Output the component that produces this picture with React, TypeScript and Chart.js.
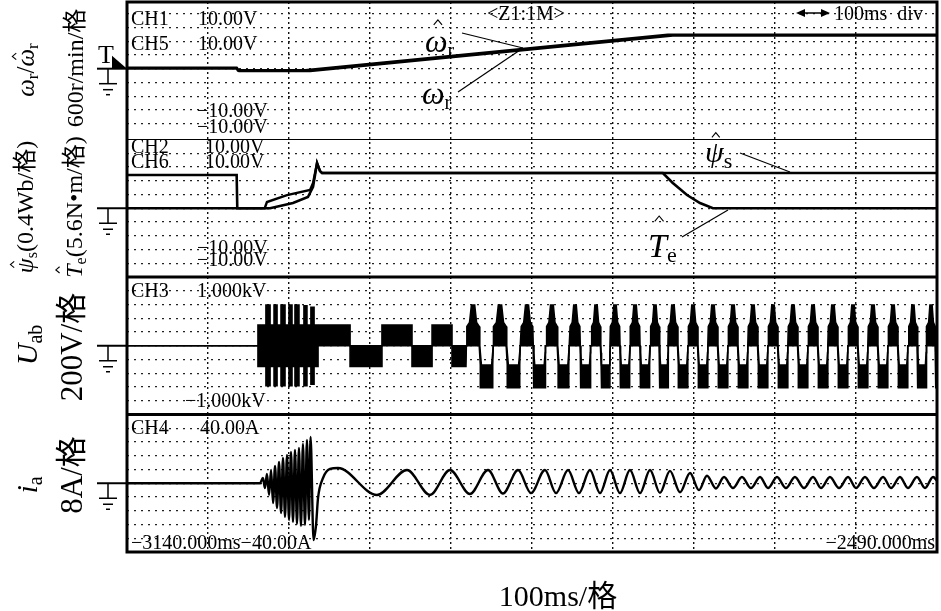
import { useEffect, useRef } from "react";
import { Chart, registerables } from "chart.js";

Chart.register(...registerables);

const SERIF = '"Liberation Serif", "Times New Roman", "Noto Sans CJK SC", serif';

// ---------------- data ----------------
// time axis (ms): 10 divisions
const TIME_START = -3140;
const TIME_END = -2490;
const TIME_STEP = 65;

// Panel 1: rotor speed (values in screen divisions, 600 r/min per division)
const speedEstTimes = [-3140, -3052, -3051, -2997, -2706, -2490];
const speedEstValues = [0.02, 0.02, -0.12, -0.12, 2.47, 2.47];
const speedActTimes = [-3140, -3052, -3050, -2993, -2702, -2490];
const speedActValues = [0.07, 0.07, -0.17, -0.17, 2.42, 2.42];

// Panel 2: estimated flux (0.4 Wb/div) and torque (5.6 N·m/div), in divisions
const fluxTimes = [-3140, -3029.5, -3027.7, -3011.6, -2993.1, -2990.7, -2987.5, -2985.1, -2983.5, -2490];
const fluxValues = [0, 0, 0.45, 0.96, 1.33, 1.84, 3.29, 2.7, 2.56, 2.56];
const torqueTimes = [-3140, -3052, -3051.5, -3025.2, -3006.8, -2994.8, -2990.7, -2987.5, -2985.1, -2983.5, -2710, -2702, -2690.6, -2680.2, -2669.8, -2490];
const torqueValues = [2.42, 2.42, 0, 0, 0.38, 0.82, 1.55, 3.29, 2.7, 2.56, 2.56, 1.84, 0.96, 0.38, 0, 0];

// Panel 3: line voltage Uab (200 V/div). Dense switching shown as envelope blocks.
const uBlockEdges = [-3140, -3034.9, -3028.5, -3025.2, -3022.0, -3019.6, -3016.4, -3013.2, -3010.0, -3007.6, -3005.2, -3002.0, -2998.0, -2995.6, -2992.4, -2989.9, -2986.7, -2961.0, -2935.4, -2911.3, -2895.2, -2879.2, -2868.0];
const uBlockHigh = [0, 1.5, 2.96, 1.5, 2.96, 1.5, 2.96, 1.5, 2.96, 1.5, 2.96, 1.5, 2.9, 1.5, 2.8, 1.5, 1.5, 0, 1.5, 0, 1.5, 0];
const uBlockLow = [0, -1.5, -2.9, -1.5, -2.9, -1.5, -2.9, -1.5, -2.9, -1.5, -2.9, -1.5, -2.9, -1.5, -2.8, -1.5, 0, -1.5, 0, -1.5, 0, -1.5];
// positive pulse centres of the steady waveform (ms)
const uPeakTimes = [-2862.3, -2840.7, -2819.0, -2799.0, -2780.5, -2763.6, -2748.4, -2732.3, -2716.3, -2701.9, -2685.8, -2669.8, -2653.7, -2637.7, -2621.6, -2605.6, -2589.5, -2573.5, -2557.4, -2541.4, -2525.3, -2509.3, -2494.8];
const uStepLevel = 1.4;
const uTopLevel = 2.96;
const uBottomLevel = -3.05;

// Panel 4: phase current ia (8 A/div), [time ms, divisions]
const iaSamples: [number, number][] = [
  [-3140, 0], [-3033.3, 0], [-3030.9, 0.38], [-3029.3, -0.35], [-3027.7, 0.67], [-3026.0, -0.85],
  [-3024.4, 0.96], [-3022.8, -1.44], [-3021.2, 1.25], [-3019.6, -1.8], [-3018.0, 1.55], [-3016.4, -2.16],
  [-3014.8, 1.84], [-3013.2, -2.45], [-3011.6, 2.05], [-3010.0, -2.67], [-3008.4, 2.27], [-3006.8, -2.82],
  [-3005.2, 2.42], [-3003.6, -2.96], [-3002.0, 2.56], [-3000.4, -3.11], [-2998.8, 2.85], [-2997.2, -3.04],
  [-2995.6, 3.15], [-2994.0, -2.67], [-2992.7, 3.36], [-2990.3, -4.13], [-2988.3, -3.04], [-2986.7, -1.07],
  [-2982.7, 0.38], [-2977.1, 1.04], [-2970.7, 1.11], [-2939.4, -0.85], [-2915.3, 0.96], [-2896.9, -0.85],
  [-2880.8, 0.96], [-2864.8, -0.78], [-2850.3, 0.96], [-2838.3, -0.75], [-2826.2, 0.96], [-2815.8, -0.72],
  [-2804.6, 0.96], [-2795.7, -0.72], [-2786.1, 0.96], [-2777.3, -0.72], [-2768.5, 0.96], [-2760.4, -0.72],
  [-2752.4, 0.96], [-2744.4, -0.72], [-2736.4, 0.96], [-2728.3, -0.72], [-2720.3, 0.96], [-2712.3, -0.7],
  [-2704.3, 0.9], [-2696.2, -0.65], [-2688.2, 0.75], [-2681.0, -0.5], [-2674.6, 0.55], [-2667.4, -0.38],
  [-2660.9, 0.45], [-2653.7, -0.35], [-2646.5, 0.45], [-2639.3, -0.35], [-2632.0, 0.45], [-2625.6, -0.35],
  [-2618.4, 0.45], [-2611.2, -0.35], [-2604.0, 0.45], [-2596.7, -0.35], [-2589.5, 0.45], [-2583.1, -0.35],
  [-2575.9, 0.45], [-2568.6, -0.35], [-2561.4, 0.45], [-2555.0, -0.35], [-2547.8, 0.45], [-2540.6, -0.35],
  [-2533.3, 0.45], [-2526.9, -0.35], [-2519.7, 0.45], [-2513.3, -0.35], [-2506.1, 0.45], [-2499.6, -0.35],
  [-2493.2, 0.45], [-2490, 0.2],
];

// ---------------- helpers ----------------
type P = { x: number; y: number };
const pts = (times: number[], values: number[]): P[] => times.map((t, i) => ({ x: t, y: values[i] }));

function buildUab() {
  const hi: P[] = [];
  const lo: P[] = [];
  for (let i = 0; i < uBlockHigh.length; i++) {
    hi.push({ x: uBlockEdges[i], y: uBlockHigh[i] }, { x: uBlockEdges[i + 1], y: uBlockHigh[i] });
    lo.push({ x: uBlockEdges[i], y: uBlockLow[i] }, { x: uBlockEdges[i + 1], y: uBlockLow[i] });
  }
  const S = uStepLevel, T = uTopLevel, B = uBottomLevel;
  // shape of one switching period around a positive pulse centre (fraction of period, upper, lower)
  const shape: [number, number, number][] = [
    [-0.25, 0, 0], [-0.23, S, 0], [-0.13, S + 0.3, 0], [-0.06, T, 0], [0.06, T, 0], [0.13, S + 0.3, 0],
    [0.23, S, 0], [0.25, 0, 0], [0.27, -0.5, -S], [0.27, -0.5, B], [0.31, -S, B], [0.69, -S, B],
    [0.73, -0.5, B], [0.73, -0.5, -S], [0.75, 0, 0],
  ];
  for (let k = 0; k < uPeakTimes.length; k++) {
    const tp = uPeakTimes[k];
    const per = k < uPeakTimes.length - 1 ? uPeakTimes[k + 1] - tp : tp - uPeakTimes[k - 1];
    for (const [f, h, l] of shape) {
      hi.push({ x: tp + f * per, y: h });
      lo.push({ x: tp + f * per, y: l });
    }
  }
  return { hi, lo };
}

type Seg = { t: string; size: number; italic?: boolean; dy?: number; hat?: number };
const segFont = (s: Seg) => `${s.italic ? "italic " : ""}${s.size}px ${SERIF}`;
function richWidth(ctx: CanvasRenderingContext2D, segs: Seg[]) {
  let w = 0;
  for (const s of segs) {
    ctx.font = segFont(s);
    w += ctx.measureText(s.t).width;
  }
  return w;
}
function drawHat(ctx: CanvasRenderingContext2D, cx: number, by: number, hw: number) {
  ctx.beginPath();
  ctx.moveTo(cx - hw, by);
  ctx.lineTo(cx, by - hw * 1.2);
  ctx.lineTo(cx + hw, by);
  ctx.lineWidth = 1.1;
  ctx.stroke();
}
function drawRich(ctx: CanvasRenderingContext2D, segs: Seg[], x: number, y: number) {
  let cx = x;
  for (const s of segs) {
    ctx.font = segFont(s);
    const w = ctx.measureText(s.t).width;
    const by = y + (s.dy || 0);
    ctx.fillText(s.t, cx, by);
    if (s.hat) drawHat(ctx, cx + w / 2 + (s.italic ? s.size * 0.05 : 0), by - s.size * s.hat, s.size * 0.13);
    cx += w;
  }
}
function drawRotated(ctx: CanvasRenderingContext2D, segs: Seg[], cx: number, cy: number) {
  const w = richWidth(ctx, segs);
  const size = segs[0].size;
  ctx.save();
  ctx.translate(cx, cy);
  ctx.rotate(-Math.PI / 2);
  drawRich(ctx, segs, -w / 2, size * 0.35);
  ctx.restore();
}
function text(ctx: CanvasRenderingContext2D, t: string, x: number, y: number, size = 20, align: CanvasTextAlign = "left") {
  ctx.font = `${size}px ${SERIF}`;
  ctx.textAlign = align;
  ctx.fillText(t, x, y);
  ctx.textAlign = "left";
}
function line(ctx: CanvasRenderingContext2D, x1: number, y1: number, x2: number, y2: number, w = 1.2) {
  ctx.beginPath();
  ctx.moveTo(x1, y1);
  ctx.lineTo(x2, y2);
  ctx.lineWidth = w;
  ctx.stroke();
}
function ground(ctx: CanvasRenderingContext2D, left: number, gy: number) {
  line(ctx, left - 30, gy, left, gy, 2);
  const sx = left - 19;
  line(ctx, sx, gy, sx, gy + 15, 1.5);
  line(ctx, sx - 9, gy + 15, sx + 9, gy + 15, 1.5);
  line(ctx, sx - 5, gy + 21, sx + 5, gy + 21, 1.5);
  line(ctx, sx - 2, gy + 26, sx + 2, gy + 26, 1.5);
}

const overlay = {
  id: "scopeOverlay",
  beforeDraw(chart: any) {
    const ctx = chart.ctx as CanvasRenderingContext2D;
    ctx.save();
    ctx.fillStyle = "#fff";
    ctx.fillRect(0, 0, chart.width, chart.height);
    ctx.restore();
  },
  afterDraw(chart: any) {
    const ctx = chart.ctx as CanvasRenderingContext2D;
    const { left, right, top, bottom } = chart.chartArea;
    const sp = chart.scales.ySpeed, ps = chart.scales.yPsi, u = chart.scales.yU, ia = chart.scales.yIa;
    ctx.save();
    ctx.fillStyle = "#000";
    ctx.strokeStyle = "#000";
    ctx.textBaseline = "alphabetic";

    // frame and panel separators
    ctx.lineWidth = 3;
    ctx.strokeRect(left, top, right - left, bottom - top);
    line(ctx, left, ps.top, right, ps.top, 1.2);
    line(ctx, left, u.top, right, u.top, 3);
    line(ctx, left, ia.top, right, ia.top, 3);

    // ground markers
    [sp, ps, u, ia].forEach((s) => ground(ctx, left, s.getPixelForValue(0)));
    const g1 = sp.getPixelForValue(0);
    text(ctx, "T", left - 29, g1 - 6, 26);
    ctx.beginPath();
    ctx.moveTo(left - 15, g1 - 13);
    ctx.lineTo(left, g1);
    ctx.lineTo(left - 15, g1);
    ctx.closePath();
    ctx.fill();

    // channel texts
    const x0 = left + 4;
    text(ctx, "CH1", x0, 25); text(ctx, "10.00V", 198, 25);
    text(ctx, "CH5", x0, 50); text(ctx, "10.00V", 198, 50);
    text(ctx, "\u221210.00V", 197, 117); text(ctx, "\u221210.00V", 197, 133);
    text(ctx, "CH2", x0, 153); text(ctx, "10.00V", 205, 153);
    text(ctx, "CH6", x0, 168); text(ctx, "10.00V", 205, 168);
    text(ctx, "\u221210.00V", 197, 254); text(ctx, "\u221210.00V", 197, 266);
    text(ctx, "CH3", x0, 297); text(ctx, "1.000kV", 197, 297);
    text(ctx, "\u22121.000kV", 185, 407);
    text(ctx, "CH4", x0, 434); text(ctx, "40.00A", 200, 434);
    text(ctx, "\u22123140.000ms\u221240.00A", x0, 549);
    text(ctx, "\u22122490.000ms", right - 2, 549, 20, "right");
    text(ctx, "<Z1:1M>", 487, 20);
    // 100ms div with double arrow
    line(ctx, 800, 13, 826, 13, 1.5);
    ctx.beginPath(); ctx.moveTo(796, 13); ctx.lineTo(805, 9); ctx.lineTo(805, 17); ctx.closePath(); ctx.fill();
    ctx.beginPath(); ctx.moveTo(830, 13); ctx.lineTo(821, 9); ctx.lineTo(821, 17); ctx.closePath(); ctx.fill();
    text(ctx, "100ms  div", 834, 20);

    // trace annotations
    drawRich(ctx, [{ t: "\u03c9", size: 32, italic: true, hat: 0.85 }, { t: "r", size: 20, dy: 5 }], 425, 52);
    line(ctx, 462, 33, 523, 48);
    drawRich(ctx, [{ t: "\u03c9", size: 32, italic: true }, { t: "r", size: 20, dy: 5 }], 422, 104);
    line(ctx, 458, 92, 523, 48);
    drawRich(ctx, [{ t: "\u03c8", size: 30, italic: true, hat: 0.82 }, { t: "s", size: 22, dy: 6 }], 705, 162);
    line(ctx, 740, 153, 790, 172);
    drawRich(ctx, [{ t: "T", size: 34, italic: true, hat: 1.05 }, { t: "e", size: 22, dy: 5 }], 648, 257);
    line(ctx, 682, 237, 728, 210);

    // left axis labels (rotated)
    drawRotated(ctx, [
      { t: "\u03c9", size: 25, italic: true }, { t: "r", size: 17, dy: 4 }, { t: "/", size: 25 },
      { t: "\u03c9", size: 25, italic: true, hat: 0.7 }, { t: "r", size: 17, dy: 4 },
    ], 25, 70);
    drawRotated(ctx, [{ t: "600r/min/\u683c", size: 24 }], 75, 68);
    drawRotated(ctx, [{ t: "\u03c8", size: 24, italic: true, hat: 0.8 }, { t: "s", size: 16, dy: 4 }, { t: "(0.4Wb/\u683c)", size: 24 }], 25, 207);
    drawRotated(ctx, [{ t: "T", size: 24, italic: true, hat: 0.95 }, { t: "e", size: 16, dy: 4 }, { t: "(5.6N\u2022m/\u683c)", size: 24 }], 74, 207);
    drawRotated(ctx, [{ t: "U", size: 30, italic: true }, { t: "ab", size: 20, dy: 5 }], 26, 345);
    drawRotated(ctx, [{ t: "200V/\u683c", size: 31 }], 71, 347);
    drawRotated(ctx, [{ t: "i", size: 30, italic: true }, { t: "a", size: 20, dy: 5 }], 26, 485);
    drawRotated(ctx, [{ t: "8A/\u683c", size: 31 }], 71, 475);

    // bottom label
    text(ctx, "100ms/\u683c", 558, 606, 30, "center");
    ctx.restore();
  },
};

function yScale(min: number, max: number) {
  return {
    type: "linear",
    position: "left",
    stack: "scope",
    stackWeight: 1,
    min,
    max,
    afterBuildTicks: (s: any) => {
      s.ticks = [-4, -3, -2, -1, 0, 1, 2, 3, 4].map((v) => ({ value: v }));
    },
    ticks: { display: false },
    grid: { color: "#222", lineWidth: 1.2, drawTicks: false },
    border: { display: false, dash: [2, 5] },
  };
}

export default function App() {
  const ref = useRef<HTMLCanvasElement | null>(null);
  useEffect(() => {
    if (!ref.current) return;
    const { hi, lo } = buildUab();
    const base = { pointRadius: 0, borderColor: "#000", fill: false, tension: 0 };
    const chart = new Chart(ref.current, {
      type: "line",
      data: {
        datasets: [
          { ...base, label: "ωr estimated", data: pts(speedEstTimes, speedEstValues), yAxisID: "ySpeed", borderWidth: 2.6 },
          { ...base, label: "ωr", data: pts(speedActTimes, speedActValues), yAxisID: "ySpeed", borderWidth: 2.6 },
          { ...base, label: "ψs", data: pts(fluxTimes, fluxValues), yAxisID: "yPsi", borderWidth: 2.4 },
          { ...base, label: "Te", data: pts(torqueTimes, torqueValues), yAxisID: "yPsi", borderWidth: 2.6 },
          { ...base, label: "Uab high", data: hi, yAxisID: "yU", borderWidth: 1.6, fill: "+1", backgroundColor: "#000" },
          { ...base, label: "Uab low", data: lo, yAxisID: "yU", borderWidth: 1.6 },
          { ...base, label: "ia", data: iaSamples.map(([x, y]) => ({ x, y })), yAxisID: "yIa", borderWidth: 2.4, cubicInterpolationMode: "monotone" },
        ] as any,
      },
      options: {
        responsive: false,
        animation: false,
        layout: { padding: { left: 127, top: 2, right: 4, bottom: 59 } },
        plugins: { legend: { display: false }, tooltip: { enabled: false } },
        scales: {
          x: {
            type: "linear",
            min: TIME_START,
            max: TIME_END,
            ticks: { display: false, stepSize: TIME_STEP },
            grid: { color: "#111", lineWidth: 1.4, drawTicks: false },
            border: { display: false, dash: [2, 3] },
          },
          yIa: yScale(-5, 5),
          yU: yScale(-5, 5),
          yPsi: yScale(-5, 5),
          ySpeed: yScale(-5.15, 4.85),
        } as any,
      },
      plugins: [overlay],
    });
    return () => chart.destroy();
  }, []);
  return (
    <div style={{ position: "fixed", left: 0, top: 0, width: 941, height: 611, background: "#fff" }}>
      <canvas ref={ref} width={941} height={611} style={{ display: "block", width: 941, height: 611 }} />
    </div>
  );
}
